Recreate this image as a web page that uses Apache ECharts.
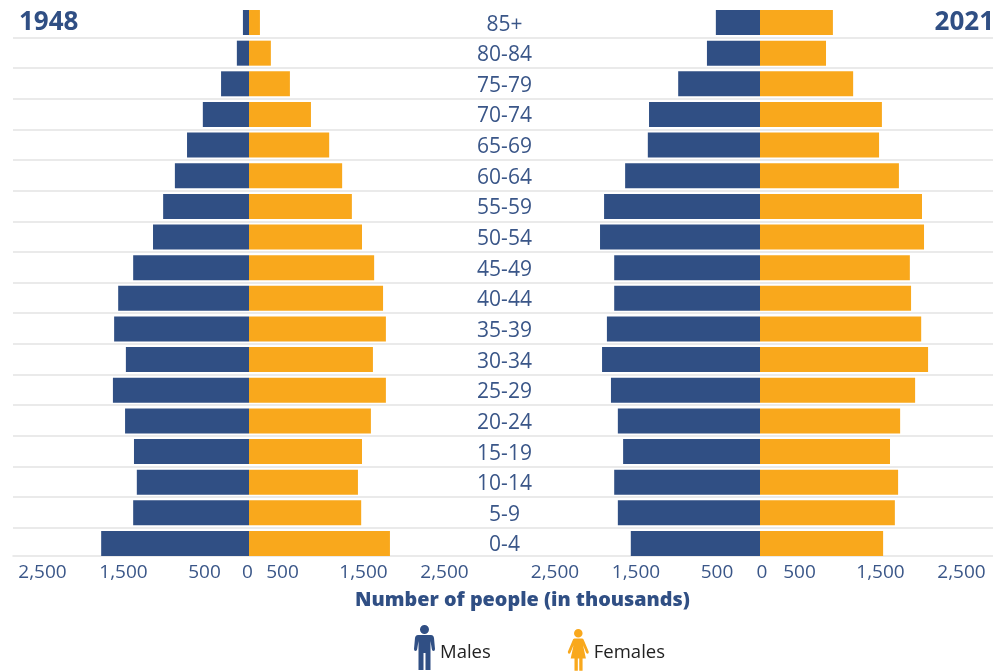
<!DOCTYPE html>
<html>
<head>
<meta charset="utf-8">
<style>html,body{margin:0;padding:0;background:#fff}#chart{width:993px;height:672px}</style>
<script src="https://cdn.jsdelivr.net/npm/echarts@6/dist/echarts.min.js"></script>
</head>
<body>
<div id="chart"></div>
<script>
// Population by five-year age group, in thousands, oldest group first.
const ageGroups = ['85+','80-84','75-79','70-74','65-69','60-64','55-59','50-54','45-49','40-44','35-39','30-34','25-29','20-24','15-19','10-14','5-9','0-4'];
const males1948 = [75,150,345,570,765,915,1060,1185,1430,1615,1665,1520,1680,1530,1420,1385,1430,1825];
const females1948 = [135,270,505,765,990,1150,1270,1395,1545,1655,1690,1530,1690,1505,1395,1345,1385,1740];
const males2021 = [545,655,1010,1370,1385,1665,1925,1975,1800,1800,1890,1950,1840,1755,1690,1800,1755,1595];
const females2021 = [900,815,1150,1505,1470,1715,2000,2025,1850,1865,1990,2075,1915,1730,1605,1705,1665,1520];
const labelledTicks = [0,500,1500,2500];

const NAVY = '#304f84', ORANGE = '#f9a81c', TEXT_BLUE = '#3a5688', RULE = '#e3e3e3';
const FONT = '"Open Sans", sans-serif';

const maleIcon = 'path://M0 47h0M6 4.5a4.5 4.5 0 1 0 9 0a4.5 4.5 0 1 0 -9 0zM4 10H17Q19.5 10 20 13L21 24Q21 26 19.5 26Q18 26 17.8 24L16.5 16V45H11.5V28H9.5V45H4.5V16L3.2 24Q3 26 1.5 26Q0 26 0 24L1 13Q1.5 10 4 10Z';
const femaleIcon = 'path://M0 -3h0M6.5 4.5a4.5 4.5 0 1 0 9 0a4.5 4.5 0 1 0 -9 0zM7 10H15Q16.5 10 17 12L22 24Q22.3 26 20.5 26Q19.5 26 19 24.5L16 17L19 31H15.5V44H12V31H10.5V44H7V31H3L6 17L3 24.5Q2.5 26 1.5 26Q-.3 26 0 24L5 12Q5.5 10 7 10Z';

// Tick text is set slightly off its tick: shift = horizontal offset in px per side of zero.
const tickStyle = shift => ({
  fontSize: 19, fontFamily: FONT, color: TEXT_BLUE,
  padding: shift < 0 ? [0, -2 * shift, 0, 0] : [0, 0, 0, 2 * shift]
});

const valueAxis = (gridIndex, shifts) => ({
  type: 'value', gridIndex, min: -2500, max: 2500, interval: 500,
  axisLine: {show: false}, axisTick: {show: false}, splitLine: {show: false},
  axisLabel: {
    show: true, margin: 4, fontSize: 19, fontFamily: FONT, color: TEXT_BLUE,
    formatter: v => {
      if (!labelledTicks.includes(Math.abs(v))) return '';
      const side = v < 0 ? 'neg' : v > 0 ? 'pos' : 'zero';
      return '{' + side + '|' + Math.abs(v).toLocaleString('en-US') + '}';
    },
    rich: {neg: tickStyle(shifts.neg), zero: tickStyle(shifts.zero), pos: tickStyle(shifts.pos)}
  }
});

const ageAxis = (gridIndex, position, showLabels) => ({
  type: 'category', gridIndex, inverse: true, position, data: ageGroups,
  axisLine: {show: false}, axisTick: {show: false},
  axisLabel: {
    show: showLabels, align: 'center', margin: 53,
    formatter: '{age|{value}}',
    rich: {age: {fontSize: 21, fontFamily: FONT, color: TEXT_BLUE, padding: [4, 0, 0, 0]}}
  }
});

const barSeries = (name, values, color, axisIndex, sign) => ({
  name, type: 'bar', stack: 'panel' + axisIndex, barWidth: 25,
  xAxisIndex: axisIndex, yAxisIndex: axisIndex,
  data: values.map(v => sign * v),
  itemStyle: {color},
  emphasis: {disabled: true}, silent: true, animation: false
});

const chart = echarts.init(document.getElementById('chart'), null, {renderer: 'canvas'});
chart.setOption({
  animation: false,
  backgroundColor: '#fff',
  title: [
    {text: '1948', left: 14, top: 5, textStyle: {fontSize: 26, fontWeight: 700, fontFamily: FONT, color: NAVY}},
    {text: '2021', right: -6, top: 5, textStyle: {fontSize: 26, fontWeight: 700, fontFamily: FONT, color: NAVY}},
    {text: 'Number of people (in thousands)', left: 517.5, textAlign: 'center', top: 585, textStyle: {fontSize: 19.8, fontWeight: 800, fontFamily: FONT, color: NAVY}}
  ],
  legend: {
    left: 414, top: 625, itemWidth: 21, itemHeight: 47, itemGap: 77, padding: 0,
    data: [
      {name: 'Males', icon: maleIcon},
      {name: 'Females', icon: femaleIcon}
    ],
    formatter: '{key|{name}}',
    textStyle: {rich: {key: {fontSize: 18.5, fontFamily: FONT, color: '#222', padding: [8, 0, 0, 0]}}},
    selectedMode: false
  },
  grid: [
    // Full-width band that only carries the row separators and the bottom rule.
    {left: 13, right: 0, top: 6.7, height: 551.7},
    {left: 46.5, width: 405, top: 7.2, height: 551.6},
    {left: 557.5, width: 405, top: 7.2, height: 551.6}
  ],
  xAxis: [
    {
      type: 'value', gridIndex: 0, offset: -2.4,
      axisLine: {show: true, lineStyle: {color: RULE, width: 1.5}},
      axisTick: {show: false}, axisLabel: {show: false}, splitLine: {show: false}
    },
    valueAxis(1, {neg: -4, zero: -1.5, pos: -7}),
    valueAxis(2, {neg: -2.5, zero: 2, pos: -1})
  ],
  yAxis: [
    {
      type: 'category', gridIndex: 0, inverse: true, data: ageGroups,
      axisLine: {show: false}, axisTick: {show: false}, axisLabel: {show: false},
      splitLine: {show: true, showMinLine: false, showMaxLine: false, interval: 0, lineStyle: {color: RULE, width: 1.5}}
    },
    ageAxis(1, 'right', false),
    ageAxis(2, 'left', true)
  ],
  series: [
    barSeries('Males', males1948, NAVY, 1, -1),
    barSeries('Females', females1948, ORANGE, 1, 1),
    barSeries('Males', males2021, NAVY, 2, -1),
    barSeries('Females', females2021, ORANGE, 2, 1)
  ]
});
</script>
</body>
</html>
